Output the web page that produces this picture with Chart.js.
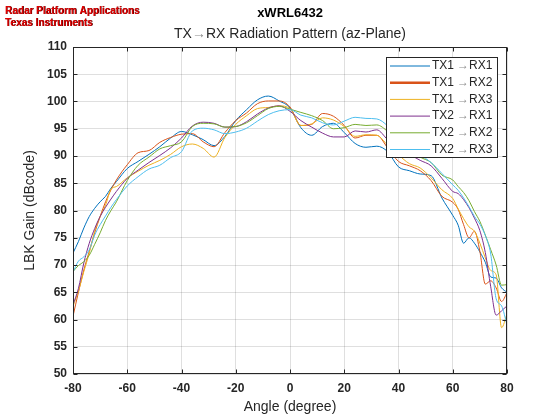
<!DOCTYPE html>
<html>
<head>
<meta charset="utf-8">
<script src="https://cdn.jsdelivr.net/npm/chart.js@4.4.1/dist/chart.umd.min.js"></script>
<style>
  html, body { margin: 0; padding: 0; background: #fff; }
  #wrap { width: 560px; height: 420px; }
</style>
</head>
<body>
<div id="wrap"><canvas id="chart" width="560" height="420"></canvas></div>
<script>
// angle grid (deg), finer at the edges where the curves get jagged
const angles = [-80, -78, -76, -74, -72, -70, -68, -66, -64,
  -60, -56, -52, -48, -44, -40, -36, -32, -28, -24, -20, -16, -12, -8, -4,
  0, 4, 8, 12, 16, 20, 24, 28, 32, 36, 40, 44, 48, 52, 56,
  60, 62, 64, 66, 68, 70, 72, 74, 76, 78, 80];

// LBK gain (dBcode) per TX/RX pair
const tx1rx1 = [72.2, 74.3, 76.8, 78.9, 80.4, 81.6, 82.6, 84.1, 85.3,
  87.7, 89.0, 90.3, 91.7, 93.3, 94.5, 93.9, 93.0, 91.9, 93.6, 96.5, 98.5, 100.3, 101.0, 100.1,
  98.8, 95.2, 93.8, 95.4, 96.0, 94.3, 92.3, 91.6, 91.8, 90.8, 88.0, 87.3, 86.7, 86.4, 82.3,
  79.1, 77.3, 74.0, 75.0, 74.0, 72.4, 70.5, 67.8, 67.6, 65.8, 65.0];
const tx1rx2 = [60.6, 65.0, 69.1, 72.5, 75.9, 78.9, 81.6, 83.8, 85.6,
  88.4, 90.6, 91.0, 92.5, 93.4, 94.0, 94.1, 92.6, 91.7, 94.3, 96.5, 97.9, 99.6, 100.1, 100.1,
  99.0, 95.6, 95.8, 97.8, 97.3, 95.6, 93.3, 93.8, 93.8, 91.5, 89.0, 88.2, 87.3, 85.5, 82.6,
  81.5, 80.2, 77.4, 75.0, 76.2, 72.5, 66.5, 67.1, 65.8, 63.3, 64.9];
const tx1rx3 = [62.4, 65.2, 68.8, 72.2, 76.2, 78.9, 81.0, 83.9, 84.4,
  86.0, 87.2, 88.3, 89.2, 90.3, 91.7, 92.2, 91.4, 89.8, 93.4, 95.8, 97.4, 98.7, 98.9, 99.2,
  98.7, 95.6, 95.9, 97.0, 96.6, 95.4, 93.6, 93.9, 93.8, 92.0, 90.2, 88.6, 87.8, 86.0, 83.8,
  82.2, 80.3, 78.5, 77.0, 76.2, 74.0, 71.3, 69.0, 68.2, 58.5, 61.0];
const tx2rx1 = [62.7, 65.7, 70.4, 74.0, 76.7, 78.9, 80.6, 82.1, 83.5,
  85.9, 87.4, 88.8, 90.1, 91.5, 93.3, 95.5, 96.2, 96.0, 95.3, 95.4, 96.3, 97.7, 98.8, 99.2,
  98.2, 96.5, 95.3, 94.2, 93.5, 93.5, 94.6, 94.4, 94.8, 93.0, 91.5, 90.3, 89.2, 88.2, 85.9,
  83.5, 83.1, 82.0, 80.5, 78.6, 76.3, 72.3, 66.0, 60.8, 61.6, 62.5];
const tx2rx2 = [68.8, 69.9, 70.6, 71.8, 73.8, 75.9, 78.2, 80.0, 81.6,
  85.5, 88.3, 89.8, 91.3, 91.9, 92.6, 95.4, 96.0, 95.9, 95.3, 95.4, 96.1, 97.4, 98.7, 99.1,
  98.6, 98.0, 97.4, 96.5, 95.0, 95.2, 95.8, 95.6, 95.7, 94.5, 92.5, 91.3, 89.8, 88.8, 86.5,
  85.6, 84.4, 83.3, 81.8, 79.8, 78.0, 75.5, 72.8, 70.0, 66.3, 66.4];
const tx2rx3 = [68.7, 70.7, 71.5, 72.8, 75.5, 77.4, 79.0, 80.6, 82.0,
  84.5, 86.2, 87.6, 88.3, 89.7, 90.8, 94.6, 95.1, 94.8, 94.1, 94.4, 95.1, 96.4, 97.6, 98.3,
  98.5, 97.5, 97.0, 96.1, 95.7, 96.4, 97.1, 96.9, 96.8, 95.5, 93.0, 91.5, 90.2, 88.8, 86.8,
  84.7, 83.7, 82.3, 80.7, 78.9, 77.5, 75.4, 72.0, 63.8, 62.5, 59.0];

const pairs = [['TX1', 'RX1'], ['TX1', 'RX2'], ['TX1', 'RX3'], ['TX2', 'RX1'], ['TX2', 'RX2'], ['TX2', 'RX3']];
const colors = ['#0072BD', '#D95319', '#EDB120', '#7E2F8E', '#77AC30', '#4DBEEE'];
const xTicks = [-80, -60, -40, -20, 0, 20, 40, 60, 80];
const yTicks = [50, 55, 60, 65, 70, 75, 80, 85, 90, 95, 100, 105, 110];

const series = [tx1rx1, tx1rx2, tx1rx3, tx2rx1, tx2rx2, tx2rx3];
const axisColor = '#262626';
const arrowColor = '#8c8c8c';

// draw "A→B" with a grey arrow, starting at x
function arrowText(ctx, a, b, x, y, gap) {
  ctx.fillStyle = axisColor;
  ctx.fillText(a, x, y);
  x += ctx.measureText(a).width + gap;
  ctx.fillStyle = arrowColor;
  ctx.fillText('→', x, y);
  x += ctx.measureText('→').width;
  ctx.fillStyle = axisColor;
  ctx.fillText(b, x, y);
}

const frame = {
  id: 'frame',
  afterDatasetsDraw(chart) {
    const { ctx, chartArea: a, scales: { x, y } } = chart;
    const l = Math.round(a.left) + 0.5, r = Math.round(a.right) - 0.5;
    const t = Math.round(a.top) + 0.5, b = Math.round(a.bottom) - 0.5;
    ctx.save();
    ctx.strokeStyle = axisColor;
    ctx.lineWidth = 1;
    ctx.beginPath();
    yTicks.forEach(v => {
      const py = Math.round(y.getPixelForValue(v)) + 0.5;
      ctx.moveTo(l, py); ctx.lineTo(l + 4, py);
      ctx.moveTo(r, py); ctx.lineTo(r - 4, py);
    });
    xTicks.forEach(v => {
      const px = Math.round(x.getPixelForValue(v)) + 0.5;
      ctx.moveTo(px, b); ctx.lineTo(px, b - 4);
      ctx.moveTo(px, t); ctx.lineTo(px, t + 4);
    });
    ctx.stroke();
    ctx.strokeRect(l, t, r - l, b - t);
    ctx.restore();
  }
};

const boxLegend = {
  id: 'boxLegend',
  afterDraw(chart) {
    const ctx = chart.ctx;
    const bx = 386.5, by = 57.5, bw = 111, bh = 100;
    ctx.save();
    ctx.fillStyle = '#fff';
    ctx.fillRect(bx, by, bw, bh);
    ctx.strokeStyle = axisColor;
    ctx.lineWidth = 1;
    ctx.strokeRect(bx, by, bw, bh);
    ctx.font = '12px "Liberation Sans", Arial, sans-serif';
    ctx.textBaseline = 'middle';
    pairs.forEach((p, i) => {
      const ry = 66 + i * 16.7;
      ctx.strokeStyle = colors[i];
      ctx.lineWidth = i === 1 ? 2.5 : 1;
      ctx.beginPath();
      ctx.moveTo(390, ry); ctx.lineTo(430, ry);
      ctx.stroke();
      arrowText(ctx, p[0], p[1], 432, ry, 3);
    });
    ctx.restore();
  }
};

const headings = {
  id: 'headings',
  afterDraw(chart) {
    const ctx = chart.ctx;
    ctx.save();
    ctx.textBaseline = 'middle';
    // corner stamp
    ctx.font = 'bold 10px "Liberation Sans", Arial, sans-serif';
    ['Radar Platform Applications', 'Texas Instruments'].forEach((s, i) => {
      ctx.fillStyle = '#400000';
      ctx.fillText(s, 5.6, 11.5 + i * 12);
      ctx.fillStyle = '#e00000';
      ctx.fillText(s, 5, 11 + i * 12);
    });
    // titles
    ctx.font = 'bold 13px "Liberation Sans", Arial, sans-serif';
    ctx.textAlign = 'center';
    ctx.fillStyle = '#000';
    ctx.fillText('xWRL6432', 290, 13);
    ctx.textAlign = 'left';
    ctx.font = '14px "Liberation Sans", Arial, sans-serif';
    const a = 'TX', b = 'RX Radiation Pattern (az-Plane)';
    const w = ctx.measureText(a).width + ctx.measureText('→').width + ctx.measureText(b).width;
    arrowText(ctx, a, b, 290 - w / 2, 34, 0);
    ctx.restore();
  }
};

new Chart(document.getElementById('chart'), {
  type: 'line',
  data: {
    datasets: series.map((vals, i) => ({
      label: pairs[i].join('→'),
      data: angles.map((a, j) => ({ x: a, y: vals[j] })),
      borderColor: colors[i],
      backgroundColor: colors[i],
      borderWidth: 1,
      pointRadius: 0,
      cubicInterpolationMode: 'monotone',
      fill: false,
      order: series.length - i
    }))
  },
  options: {
    responsive: false,
    animation: false,
    devicePixelRatio: 1,
    layout: { padding: { left: 0, right: 53, top: 47, bottom: 0 } },
    plugins: {
      legend: { display: false },
      tooltip: { enabled: false }
    },
    scales: {
      x: {
        type: 'linear',
        min: -80,
        max: 80,
        afterFit: s => { s.height = 46; },
        afterBuildTicks: s => { s.ticks = xTicks.map(v => ({ value: v })); },
        ticks: {
          padding: 7,
          color: axisColor,
          font: { family: '"Liberation Sans", Arial, sans-serif', size: 12, weight: 'bold' }
        },
        grid: { color: 'rgba(38,38,38,0.15)', drawTicks: false },
        border: { display: false },
        title: {
          display: true,
          text: 'Angle (degree)',
          color: axisColor,
          font: { family: '"Liberation Sans", Arial, sans-serif', size: 14 },
          padding: { top: 0, bottom: 4 }
        }
      },
      y: {
        min: 50,
        max: 110,
        afterFit: s => { s.width = 73; },
        afterBuildTicks: s => { s.ticks = yTicks.map(v => ({ value: v })); },
        ticks: {
          padding: 6,
          color: axisColor,
          font: { family: '"Liberation Sans", Arial, sans-serif', size: 12, weight: 'bold' }
        },
        grid: { color: 'rgba(38,38,38,0.15)', drawTicks: false },
        border: { display: false },
        title: {
          display: true,
          text: 'LBK Gain (dBcode)',
          color: axisColor,
          font: { family: '"Liberation Sans", Arial, sans-serif', size: 14 },
          padding: { top: 22, bottom: 0 }
        }
      }
    }
  },
  plugins: [frame, boxLegend, headings]
});
</script>
</body>
</html>
